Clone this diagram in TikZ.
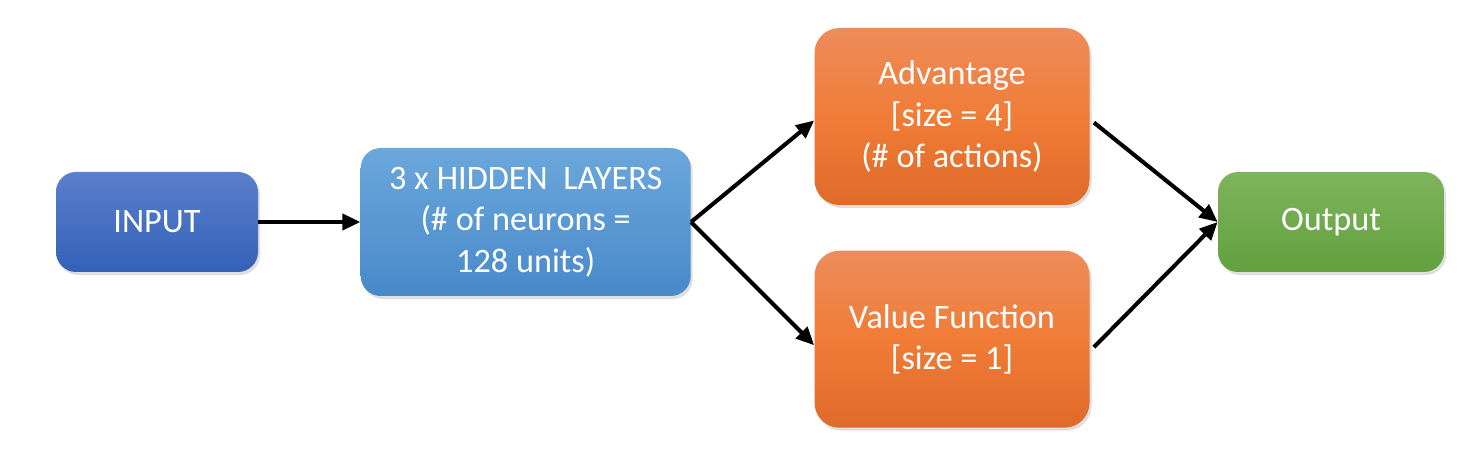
\documentclass[tikz,border=0pt]{standalone}
\usepackage{fontspec}
\setmainfont{Carlito}
\usepackage{tikz}
\usetikzlibrary{arrows.meta,positioning,shadows}

\definecolor{inTop}{HTML}{5B80CB}
\definecolor{inBot}{HTML}{3461B9}
\definecolor{hidTop}{HTML}{6BA7DB}
\definecolor{hidBot}{HTML}{4889CA}
\definecolor{orTop}{HTML}{EE8C5C}
\definecolor{orMid}{HTML}{F07C36}
\definecolor{orBot}{HTML}{E06A29}
\definecolor{outTop}{HTML}{7EB45D}
\definecolor{outBot}{HTML}{62A03D}

\begin{document}
\begin{tikzpicture}[auto,
	block/.style={rectangle,rounded corners=0.4cm,inner sep=0pt,align=center,
	  text=white,font=\fontsize{19.5}{23.5}\selectfont,
	  drop shadow={opacity=0.25,shadow xshift=0.04cm,shadow yshift=-0.06cm}},
	inblock/.style={block,top color=inTop,bottom color=inBot,minimum width=4.04cm,minimum height=2cm},
	hidblock/.style={block,top color=hidTop,bottom color=hidBot,minimum width=6.6cm,minimum height=2.96cm},
	headblock/.style={block,rounded corners=0.5cm,top color=orTop,bottom color=orBot,middle color=orMid,
	  minimum width=5.5cm,minimum height=3.54cm},
	outblock/.style={block,top color=outTop,bottom color=outBot,minimum width=4.52cm,minimum height=2cm},
	paths/.style={-{Triangle[length=0.36cm,width=0.32cm]}, line width=2.3pt}
	]
\useasboundingbox (0,0) rectangle (29.44,-9.1);
% blocks
\node [inblock] (inp) at (3.14,-4.44) {INPUT};
\node [hidblock] (hid) [right = 2.04cm of inp] {3 x HIDDEN\ \ LAYERS\\(\# of neurons =\\128 units)};
\node [headblock] (adv) at (19.04,-2.33) {Advantage\\{}[size = 4]\\(\# of actions)};
\node [headblock] (val) [below = 0.9cm of adv] {Value Function\\{}[size = 1]};
\node [outblock] (out) at (26.62,-4.44) {Output};

% connections
\draw [paths] (inp) -- (hid);
\draw [paths] (hid.east) -- ([yshift=-0.08cm]adv.west);
\draw [paths] (hid.east) -- ([yshift=-0.12cm]val.west);
\draw [paths] ([xshift=0.08cm,yshift=-0.12cm]adv.east) -- (out.west);
\draw [paths] ([xshift=0.08cm,yshift=-0.16cm]val.east) -- (out.west);
\end{tikzpicture}
\end{document}
